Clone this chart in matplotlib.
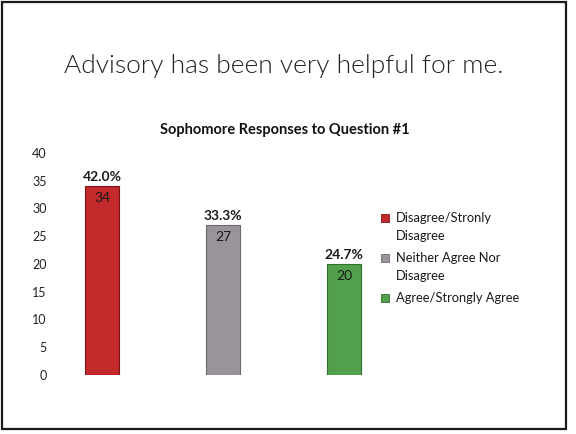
import matplotlib.pyplot as plt
from matplotlib.patches import Rectangle

categories = ["Disagree/Stronly\nDisagree", "Neither Agree Nor\nDisagree", "Agree/Strongly Agree"]
counts = [34, 27, 20]
percents = ["42.0%", "33.3%", "24.7%"]
colors = ["#c42a2c", "#9b939b", "#53a04c"]
edges = ["#7a1416", "#6e666e", "#2f6e2c"]
yticks = [0, 5, 10, 15, 20, 25, 30, 35, 40]

plt.rcParams['font.family'] = ['Lato', 'DejaVu Sans']

W, H = 576, 434
fig = plt.figure(figsize=(W / 100, H / 100), dpi=100)
fig.patch.set_facecolor("white")

# slide border
fig.add_artist(Rectangle((2 / W, 5 / H), 564 / W, 427 / H, transform=fig.transFigure,
                         fill=False, edgecolor="#1a1a1a", linewidth=1.6))

fig.text(284 / W, 1 - 66 / H, "Advisory has been very helpful for me.",
         ha="center", va="center", fontsize=19, fontweight=300, color="#222222")

# plot area
left, right = 62, 400
bottom, top = 375, 153
ax = fig.add_axes([left / W, 1 - bottom / H, (right - left) / W, (bottom - top) / H])
x = list(range(len(counts)))
ax.bar(x, counts, width=0.285, color=colors, edgecolor=edges, linewidth=0.8)
ax.set_xlim(-(102 - left) / 121, 2 + (right - 344) / 121)
ax.set_ylim(0, 40)
ax.set_yticks(yticks)
ax.tick_params(axis="y", length=0, pad=11, labelsize=9, labelcolor="#222222")
ax.set_xticks([])
for s in ax.spines.values():
    s.set_visible(False)
ax.patch.set_alpha(0)

for xi, c, p in zip(x, counts, percents):
    ax.text(xi, c + 0.6, p, ha="center", va="bottom", fontsize=10,
            fontweight="bold", color="#1a1a1a")
    ax.text(xi, c - 1.0, str(c), ha="center", va="top", fontsize=10,
            color="#1a1a1a")

fig.text(285 / W, 1 - 130 / H, "Sophomore Responses to Question #1",
         ha="center", va="center", fontsize=10.5, fontweight="bold", color="#111111")

# legend, markers aligned with the first line of each entry
leg_x, leg_y = 385, 218
line_h = 18
for name, c, e in zip(categories, colors, edges):
    fig.add_artist(Rectangle(((leg_x - 4) / W, 1 - (leg_y + 4) / H), 8 / W, 8 / H,
                             transform=fig.transFigure, facecolor=c, edgecolor=e, linewidth=0.6))
    for j, line in enumerate(name.split("\n")):
        fig.text((leg_x + 11) / W, 1 - (leg_y + j * line_h) / H, line,
                 ha="left", va="center", fontsize=9.3, color="#1a1a1a")
    leg_y += line_h * len(name.split("\n")) + 4

fig.savefig("out.png", dpi=100)
